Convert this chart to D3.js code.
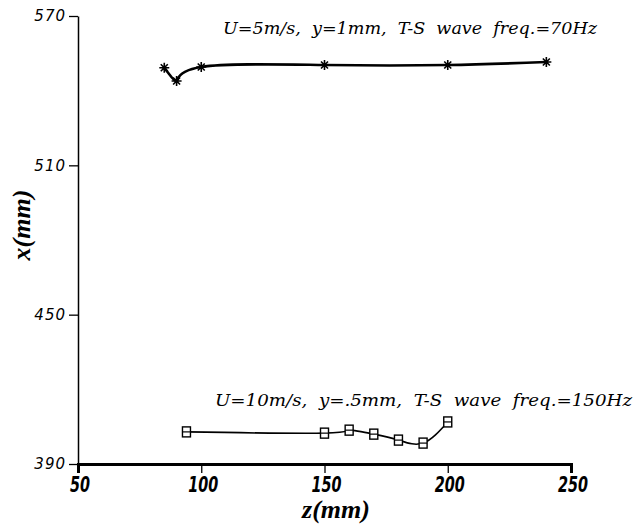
<html>
<head>
<meta charset="utf-8">
<script src="https://d3js.org/d3.v7.min.js"></script>
<style>
  body { margin: 0; background: #fff; }
  .ylab { font-family: "DejaVu Sans", sans-serif; font-style: italic; font-size: 15px; letter-spacing: 1px; }
  .xlab { font-family: "DejaVu Sans Condensed", "DejaVu Sans", sans-serif; font-style: italic; font-weight: bold; font-size: 16px; }
  .note { font-family: "DejaVu Serif", serif; font-style: italic; font-size: 16px; }
  .title { font-family: "Liberation Serif", serif; font-style: italic; font-weight: bold; font-size: 26px; }
</style>
</head>
<body>
<div id="container"></div>
<script>
// data
var starZ = [85, 90, 100, 150, 200, 240];
var starX = [549.2, 543.9, 549.5, 550.3, 550.3, 551.5];
var squareZ = [94, 150, 160, 170, 180, 190, 200];
var squareX = [402.9, 402.4, 403.6, 402.0, 399.6, 398.4, 406.9];
var xTicks = [50, 100, 150, 200, 250];
var yTicks = [390, 450, 510, 570];
var note1 = "U=5m/s,  y=1mm,  T-S  wave  freq.=70Hz";
var note2 = "U=10m/s,  y=.5mm,  T-S  wave  freq.=150Hz";

var width = 640, height = 525;
var svg = d3.select("#container").append("svg")
  .attr("width", width)
  .attr("height", height);

var x = d3.scaleLinear().domain([50, 250]).range([78, 571]);
var y = d3.scaleLinear().domain([390, 570]).range([464, 16]);

// y axis
var gy = svg.append("g")
  .attr("transform", "translate(" + x(50) + ",0)")
  .call(d3.axisLeft(y).tickValues(yTicks).tickSize(9).tickSizeOuter(0).tickPadding(3));
gy.select(".domain").attr("stroke-width", 1.5);
gy.selectAll(".tick line").attr("stroke-width", 1.3);
gy.selectAll(".tick text").attr("class", "ylab").attr("font-size", null).attr("font-family", null);

// x axis
var gx = svg.append("g")
  .attr("transform", "translate(0," + y(390) + ")")
  .call(d3.axisBottom(x).tickValues(xTicks).tickSize(9).tickFormat(""));
gx.select(".domain").attr("stroke-width", 3);
gx.selectAll(".tick line").attr("stroke-width", 1.3);

// x tick labels, tall and narrow like the plotter font
svg.selectAll(".xl")
  .data(xTicks)
  .enter().append("text")
  .attr("class", "xlab")
  .attr("text-anchor", "middle")
  .attr("transform", function(d) { return "translate(" + (x(d) + 2) + "," + (y(390) + 28) + ") scale(1,1.35)"; })
  .text(function(d) { return d; });

// axis titles
svg.append("text")
  .attr("class", "title")
  .attr("x", 336).attr("y", 518)
  .attr("text-anchor", "middle")
  .text("z(mm)");
svg.append("text")
  .attr("class", "title")
  .attr("transform", "translate(30,225) rotate(-90)")
  .attr("text-anchor", "middle")
  .text("x(mm)");

// curves
var line = d3.line().curve(d3.curveNatural)
  .x(function(d) { return x(d[0]); })
  .y(function(d) { return y(d[1]); });

var starPts = d3.zip(starZ, starX);
var squarePts = d3.zip(squareZ, squareX);

svg.append("path")
  .datum(starPts)
  .attr("d", line)
  .attr("fill", "none")
  .attr("stroke", "#000")
  .attr("stroke-width", 2.6);

svg.append("path")
  .datum(squarePts)
  .attr("d", line)
  .attr("fill", "none")
  .attr("stroke", "#000")
  .attr("stroke-width", 1.6);

// star markers
var stars = svg.selectAll(".star")
  .data(starPts)
  .enter().append("g")
  .attr("transform", function(d) { return "translate(" + x(d[0]) + "," + y(d[1]) + ")"; });
stars.append("path")
  .attr("d", "M-5,0H5M0,-5V5M-3.5,-3.5L3.5,3.5M-3.5,3.5L3.5,-3.5")
  .attr("stroke", "#000")
  .attr("stroke-width", 1.6);

// square markers
var sq = svg.selectAll(".sq")
  .data(squarePts)
  .enter().append("g")
  .attr("transform", function(d) { return "translate(" + x(d[0]) + "," + y(d[1]) + ")"; });
sq.append("rect")
  .attr("x", -4).attr("y", -5)
  .attr("width", 8).attr("height", 10)
  .attr("fill", "#fff")
  .attr("stroke", "#000")
  .attr("stroke-width", 1.4);
sq.append("path")
  .attr("d", "M-4,0H4")
  .attr("stroke", "#000")
  .attr("stroke-width", 1.2);

// annotations
svg.append("text")
  .attr("class", "note")
  .attr("x", 223).attr("y", 34)
  .attr("textLength", 374)
  .attr("lengthAdjust", "spacingAndGlyphs")
  .attr("xml:space", "preserve")
  .text(note1);
svg.append("text")
  .attr("class", "note")
  .attr("x", 215).attr("y", 406)
  .attr("textLength", 417)
  .attr("lengthAdjust", "spacingAndGlyphs")
  .attr("xml:space", "preserve")
  .text(note2);
</script>
</body>
</html>
